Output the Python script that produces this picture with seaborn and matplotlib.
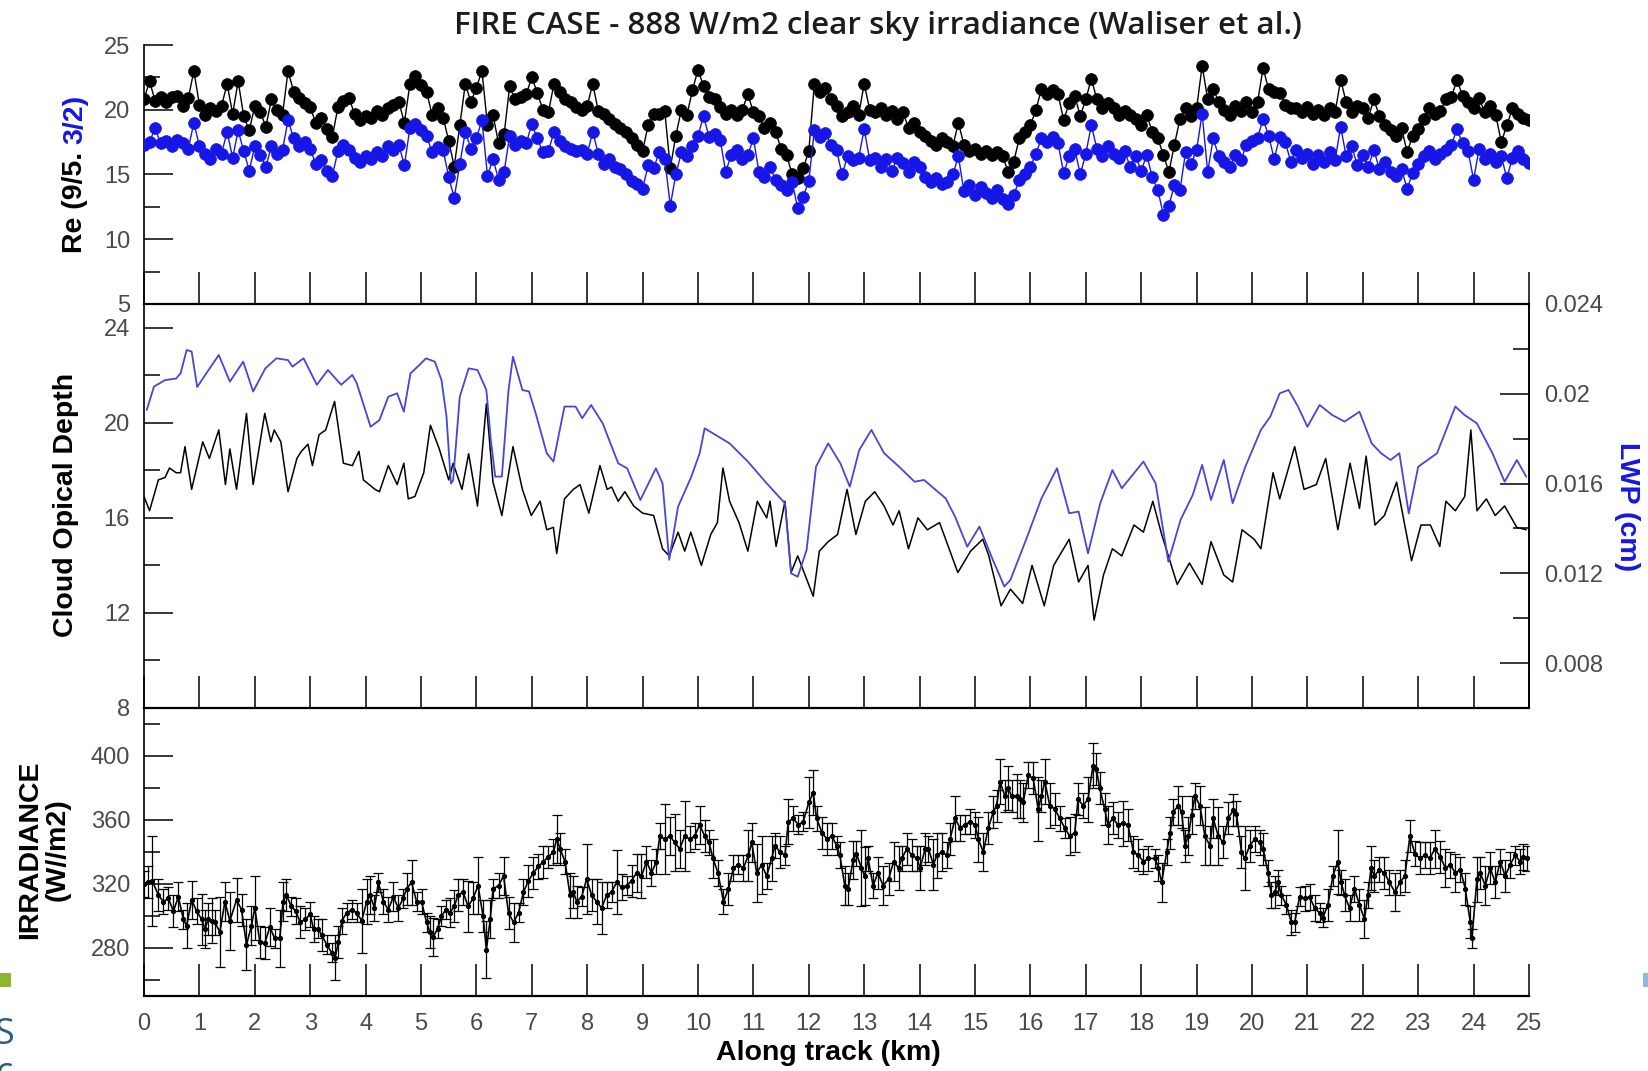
import numpy as np
import matplotlib
matplotlib.use("Agg")
import matplotlib.pyplot as plt
from matplotlib.patches import Rectangle
import seaborn as sns

# ---------------- data ----------------
# along-track distance of the effective-radius retrievals (0.1 km spacing)
re_km = np.round(np.arange(251) * 0.1, 1)

# effective radius from the 9/5 band ratio (black)
re_95 = [
    20.8, 22.2, 20.7, 21.0, 20.6, 21.0, 21.1, 20.3, 20.9, 23.0, 20.4,
    19.6, 20.1, 19.9, 20.3, 22.0, 19.7, 22.2, 19.5, 18.4, 20.3,
    19.8, 18.7, 20.8, 20.0, 19.6, 23.0, 21.4, 20.9, 20.5, 20.2,
    19.0, 19.4, 18.5, 17.9, 20.2, 20.7, 20.9, 19.7, 19.2, 19.5,
    19.4, 19.9, 19.6, 20.1, 20.4, 20.6, 19.0, 22.0, 22.6, 21.9,
    21.4, 19.6, 20.1, 19.4, 17.6, 15.6, 18.8, 22.0, 20.6, 21.7,
    23.0, 18.8, 19.6, 17.4, 18.1, 21.8, 20.8, 21.0, 21.2, 22.5,
    21.3, 20.0, 19.8, 22.0, 21.4, 20.8, 20.6, 20.2, 20.0, 20.3,
    22.0, 19.9, 19.7, 19.3, 18.9, 18.6, 18.3, 17.8, 17.3, 16.8,
    18.8, 19.7, 19.7, 19.9, 15.5, 18.0, 20.0, 19.6, 21.5, 23.1,
    21.8, 21.0, 20.8, 20.2, 19.7, 20.0, 19.6, 20.0, 21.2, 19.8,
    19.5, 18.6, 19.0, 18.3, 17.0, 16.5, 15.0, 14.7, 15.5, 16.8,
    22.0, 21.4, 21.7, 20.8, 20.3, 19.5, 19.8, 20.3, 19.6, 22.0,
    20.0, 19.8, 20.1, 19.6, 19.9, 19.3, 19.8, 18.6, 19.0, 18.3,
    18.0, 17.6, 17.3, 17.8, 17.5, 17.2, 19.0, 17.3, 16.8, 17.0,
    16.6, 16.8, 16.5, 16.7, 16.4, 15.2, 16.0, 17.8, 18.3, 18.8,
    20.0, 21.6, 21.2, 21.5, 21.2, 19.2, 20.5, 21.1, 19.5, 20.8,
    22.4, 20.8, 20.1, 20.5, 20.1, 19.6, 19.9, 19.6, 19.3, 18.8,
    19.6, 18.3, 17.8, 16.5, 15.2, 17.3, 19.3, 20.1, 19.5, 20.1,
    23.4, 20.8, 21.6, 20.6, 20.0, 19.6, 20.3, 19.9, 20.6, 19.8,
    20.6, 23.2, 21.6, 21.4, 21.3, 20.4, 20.1, 20.1, 19.8, 20.2,
    19.7, 20.0, 19.6, 20.1, 19.8, 22.3, 20.6, 19.8, 20.3, 20.1,
    19.4, 20.8, 19.5, 18.8, 18.4, 18.0, 18.6, 16.7, 18.0, 18.5,
    19.3, 20.1, 19.7, 19.9, 20.8, 21.0, 22.3, 21.1, 20.6, 20.1,
    20.9, 19.8, 20.3, 19.6, 17.5, 18.8, 20.1, 19.7, 19.4, 19.2,
]

# effective radius from the 3/2 band ratio (blue)
re_32 = [
    17.3, 17.5, 18.6, 17.4, 17.6, 17.2, 17.7, 17.4, 17.0, 19.0, 17.2,
    16.6, 16.2, 17.0, 16.6, 18.3, 16.3, 18.4, 16.8, 15.3, 17.2,
    16.5, 15.6, 17.2, 16.6, 16.9, 19.2, 17.8, 17.2, 17.5, 17.0,
    15.8, 16.1, 15.3, 14.9, 16.8, 17.3, 16.9, 16.3, 16.0, 16.4,
    16.2, 16.7, 16.4, 17.2, 16.9, 17.3, 15.7, 18.6, 18.9, 18.4,
    18.0, 16.7, 17.1, 16.9, 14.8, 13.2, 15.8, 18.3, 17.0, 17.8,
    19.2, 14.9, 16.2, 14.6, 15.2, 18.0, 17.3, 17.6, 17.4, 18.9,
    17.8, 16.7, 16.8, 18.3, 17.6, 17.2, 17.0, 16.8, 16.9, 16.6,
    18.3, 16.6, 15.8, 16.2, 15.6, 15.4, 15.0, 14.5, 14.3, 13.9,
    15.7, 15.5, 16.7, 16.2, 12.6, 15.0, 16.7, 16.4, 17.2, 18.0,
    19.5, 17.9, 18.1, 17.7, 15.2, 16.5, 16.9, 16.2, 16.5, 17.8,
    15.2, 14.8, 15.6, 14.6, 14.2, 13.8, 14.4, 12.4, 13.3, 14.5,
    18.4, 17.9, 18.2, 17.3, 16.9, 15.0, 16.4, 16.1, 16.3, 18.5,
    16.1, 16.3, 15.6, 16.2, 15.3, 16.3, 15.9, 15.2, 16.0, 15.6,
    14.8, 14.4, 14.7, 14.3, 14.4, 15.0, 16.4, 13.7, 14.2, 13.4,
    14.0, 13.6, 13.2, 13.8, 13.1, 12.7, 13.4, 14.6, 15.0, 15.6,
    16.6, 17.8, 17.5, 17.9, 17.4, 15.1, 16.4, 17.0, 15.0, 16.6,
    18.8, 17.0, 16.4, 17.2, 16.6, 16.3, 16.8, 15.6, 16.4, 15.3,
    16.5, 14.8, 13.8, 11.9, 12.6, 14.2, 13.8, 16.7, 15.8, 16.9,
    19.7, 15.2, 17.8, 16.4, 16.0, 15.6, 16.5, 16.1, 17.3, 17.6,
    17.8, 19.3, 18.0, 16.2, 17.9, 17.5, 16.0, 16.9, 16.3, 16.6,
    15.8, 16.5, 16.0, 16.7, 16.1, 18.7, 16.4, 17.2, 15.7, 16.5,
    15.6, 16.9, 15.4, 16.0, 15.2, 14.9, 15.4, 13.9, 15.1, 15.8,
    16.4, 16.8, 16.2, 16.6, 16.9, 17.3, 18.5, 17.4, 16.8, 14.6,
    17.0, 16.2, 16.6, 16.0, 16.4, 14.7, 16.3, 16.8, 16.2, 15.9,
]

# cloud optical depth
cod_km = [
    0.00, 0.10, 0.26, 0.38, 0.46, 0.58, 0.66, 0.74, 0.86, 1.06,
    1.18, 1.35, 1.47, 1.55, 1.67, 1.85, 1.97, 2.18, 2.29, 2.35,
    2.47, 2.60, 2.76, 2.84, 2.96, 3.04, 3.16, 3.28, 3.44, 3.60,
    3.76, 3.88, 3.96, 4.17, 4.25, 4.41, 4.57, 4.69, 4.77, 4.89,
    5.05, 5.17, 5.33, 5.50, 5.58, 5.74, 5.86, 6.02, 6.18, 6.30,
    6.46, 6.66, 6.83, 6.99, 7.15, 7.27, 7.39, 7.45, 7.59, 7.75,
    7.87, 8.03, 8.23, 8.36, 8.44, 8.56, 8.68, 8.84, 9.00, 9.20,
    9.36, 9.48, 9.64, 9.76, 9.87, 10.06, 10.23, 10.35, 10.45, 10.57,
    10.74, 10.90, 11.07, 11.24, 11.30, 11.41, 11.57, 11.68, 11.80, 12.08,
    12.19, 12.35, 12.52, 12.69, 12.85, 13.02, 13.19, 13.36, 13.52, 13.63,
    13.80, 13.97, 14.14, 14.36, 14.69, 14.92, 15.14, 15.25, 15.47, 15.64,
    15.86, 16.03, 16.25, 16.42, 16.70, 16.87, 17.04, 17.15, 17.32, 17.48,
    17.65, 17.87, 18.04, 18.21, 18.37, 18.65, 18.87, 19.10, 19.26, 19.49,
    19.65, 19.82, 20.04, 20.16, 20.38, 20.50, 20.77, 20.94, 21.16, 21.33,
    21.55, 21.77, 21.94, 22.06, 22.22, 22.39, 22.61, 22.88, 23.05, 23.22,
    23.39, 23.50, 23.67, 23.84, 23.95, 24.06, 24.23, 24.39, 24.56, 24.78,
    24.95,
]
cod = [
    16.9, 16.3, 17.6, 17.7, 18.1, 17.9, 17.9, 19.0, 17.2, 19.2,
    18.5, 19.7, 17.4, 18.9, 17.2, 20.4, 17.4, 20.4, 19.2, 19.7,
    19.2, 17.1, 18.5, 18.8, 19.1, 18.2, 19.5, 19.7, 20.9, 18.3,
    18.2, 18.8, 17.6, 17.2, 17.1, 18.2, 17.4, 18.3, 16.8, 16.9,
    17.9, 19.9, 18.9, 17.6, 18.3, 17.2, 18.7, 16.5, 20.8, 17.5,
    16.1, 19.0, 17.2, 16.1, 16.7, 15.5, 15.6, 14.5, 16.8, 17.2,
    17.4, 16.2, 18.2, 17.2, 17.3, 16.7, 17.1, 16.5, 16.2, 16.1,
    14.7, 14.4, 15.4, 14.6, 15.4, 14.0, 15.3, 15.8, 18.1, 16.7,
    15.8, 14.6, 16.7, 16.0, 16.7, 14.8, 16.7, 13.7, 14.4, 12.7,
    14.6, 15.0, 15.3, 17.2, 15.3, 16.7, 17.1, 16.5, 15.7, 16.3,
    14.7, 16.0, 15.5, 15.8, 13.7, 14.6, 15.1, 14.4, 12.3, 13.0,
    12.4, 14.0, 12.3, 14.0, 15.1, 13.3, 14.0, 11.7, 13.6, 14.7,
    14.4, 15.7, 15.4, 16.7, 15.3, 13.2, 14.1, 13.2, 15.0, 13.6,
    13.3, 15.5, 15.1, 14.7, 17.9, 16.8, 19.0, 17.2, 17.4, 18.5,
    15.5, 18.3, 16.4, 18.6, 15.7, 16.1, 17.5, 14.2, 15.7, 15.7,
    14.8, 16.7, 16.3, 16.9, 19.7, 16.3, 16.8, 16.1, 16.5, 15.6,
    15.5,
]

# liquid water path (cm)
lwp_km = [
    0.05, 0.18, 0.38, 0.58, 0.66, 0.77, 0.86, 0.96, 1.10, 1.35,
    1.55, 1.79, 1.97, 2.19, 2.39, 2.60, 2.68, 2.88, 3.12, 3.32,
    3.56, 3.76, 3.84, 4.09, 4.25, 4.41, 4.57, 4.69, 4.81, 4.97,
    5.09, 5.25, 5.37, 5.46, 5.54, 5.58, 5.70, 5.86, 6.02, 6.18,
    6.26, 6.34, 6.46, 6.58, 6.66, 6.83, 6.95, 7.07, 7.27, 7.39,
    7.59, 7.79, 7.91, 8.07, 8.28, 8.56, 8.72, 8.96, 9.24, 9.36,
    9.48, 9.64, 9.88, 10.03, 10.12, 10.57, 10.90, 11.24, 11.57, 11.68,
    11.80, 11.96, 12.13, 12.35, 12.57, 12.74, 12.91, 13.13, 13.36, 13.63,
    13.91, 14.08, 14.47, 14.64, 14.86, 15.08, 15.31, 15.53, 15.64, 15.92,
    16.20, 16.48, 16.70, 16.87, 17.04, 17.26, 17.48, 17.65, 18.04, 18.26,
    18.49, 18.71, 18.93, 19.10, 19.26, 19.49, 19.65, 19.88, 20.16, 20.33,
    20.50, 20.66, 20.83, 21.00, 21.22, 21.45, 21.67, 21.94, 22.16, 22.33,
    22.50, 22.66, 22.83, 23.00, 23.34, 23.67, 23.84, 24.06, 24.34, 24.56,
    24.78, 24.95,
]
lwp = [
    0.01928, 0.02032, 0.02061, 0.02068, 0.02091, 0.02195, 0.02188, 0.02030, 0.02082, 0.02173,
    0.02054, 0.02143, 0.02010, 0.02113, 0.02158, 0.02150, 0.02121, 0.02158, 0.02040, 0.02106,
    0.02040, 0.02084, 0.02047, 0.01853, 0.01883, 0.01987, 0.02002, 0.01920, 0.02091, 0.02128,
    0.02158, 0.02143, 0.02061, 0.01899, 0.01600, 0.01615, 0.01987, 0.02113, 0.02106, 0.02017,
    0.01794, 0.01631, 0.01631, 0.02017, 0.02165, 0.02017, 0.02010, 0.01913, 0.01735, 0.01698,
    0.01943, 0.01943, 0.01891, 0.01950, 0.01868, 0.01690, 0.01668, 0.01527, 0.01668, 0.01601,
    0.01260, 0.01497, 0.01631, 0.01735, 0.01846, 0.01779, 0.01698, 0.01601, 0.01512, 0.01200,
    0.01185, 0.01304, 0.01675, 0.01779, 0.01690, 0.01586, 0.01749, 0.01839, 0.01735, 0.01675,
    0.01608, 0.01616, 0.01534, 0.01453, 0.01319, 0.01408, 0.01267, 0.01141, 0.01171, 0.01349,
    0.01534, 0.01668, 0.01468, 0.01475, 0.01289, 0.01512, 0.01660, 0.01579, 0.01698, 0.01601,
    0.01252, 0.01438, 0.01549, 0.01683, 0.01527, 0.01705, 0.01512, 0.01675, 0.01839, 0.01898,
    0.02002, 0.02017, 0.01943, 0.01853, 0.01950, 0.01905, 0.01876, 0.01920, 0.01779, 0.01735,
    0.01705, 0.01735, 0.01467, 0.01675, 0.01735, 0.01943, 0.01905, 0.01868, 0.01735, 0.01608,
    0.01705, 0.01631,
]

# measured irradiance (W/m2) and its error
irr_km = [
    0.00, 0.08, 0.15, 0.26, 0.35, 0.44, 0.53, 0.62, 0.71, 0.77,
    0.86, 0.95, 1.04, 1.10, 1.16, 1.22, 1.28, 1.37, 1.46, 1.55,
    1.67, 1.76, 1.85, 1.94, 2.00, 2.09, 2.18, 2.27, 2.36, 2.45,
    2.51, 2.57, 2.66, 2.74, 2.82, 2.91, 3.00, 3.06, 3.14, 3.21,
    3.30, 3.39, 3.45, 3.51, 3.57, 3.66, 3.75, 3.84, 3.93, 4.02,
    4.08, 4.16, 4.23, 4.32, 4.41, 4.50, 4.59, 4.68, 4.74, 4.83,
    4.92, 5.01, 5.10, 5.16, 5.22, 5.30, 5.37, 5.45, 5.52, 5.60,
    5.67, 5.76, 5.85, 5.94, 6.03, 6.12, 6.18, 6.25, 6.30, 6.40,
    6.49, 6.58, 6.67, 6.76, 6.85, 6.94, 7.03, 7.12, 7.21, 7.30,
    7.39, 7.45, 7.51, 7.60, 7.69, 7.75, 7.81, 7.90, 7.99, 8.08,
    8.17, 8.26, 8.35, 8.44, 8.53, 8.62, 8.71, 8.80, 8.89, 8.98,
    9.07, 9.16, 9.25, 9.31, 9.40, 9.49, 9.58, 9.67, 9.76, 9.85,
    9.94, 10.03, 10.12, 10.20, 10.27, 10.36, 10.46, 10.55, 10.64, 10.73,
    10.82, 10.91, 10.97, 11.06, 11.15, 11.24, 11.33, 11.39, 11.48, 11.57,
    11.63, 11.72, 11.81, 11.90, 12.00, 12.08, 12.14, 12.24, 12.33, 12.42,
    12.50, 12.56, 12.65, 12.71, 12.80, 12.86, 12.95, 13.01, 13.07, 13.16,
    13.25, 13.34, 13.44, 13.53, 13.62, 13.68, 13.77, 13.86, 13.95, 14.01,
    14.10, 14.16, 14.25, 14.31, 14.40, 14.49, 14.55, 14.64, 14.73, 14.82,
    14.91, 15.00, 15.06, 15.15, 15.24, 15.33, 15.39, 15.45, 15.54, 15.60,
    15.66, 15.75, 15.81, 15.87, 15.96, 16.05, 16.14, 16.20, 16.26, 16.35,
    16.44, 16.53, 16.62, 16.71, 16.80, 16.86, 16.95, 17.04, 17.13, 17.19,
    17.25, 17.34, 17.40, 17.49, 17.58, 17.67, 17.76, 17.86, 17.95, 18.04,
    18.13, 18.25, 18.31, 18.37, 18.46, 18.52, 18.58, 18.67, 18.73, 18.79,
    18.85, 18.91, 18.97, 19.06, 19.15, 19.24, 19.30, 19.39, 19.48, 19.57,
    19.66, 19.72, 19.81, 19.87, 19.96, 20.05, 20.14, 20.20, 20.29, 20.35,
    20.41, 20.47, 20.53, 20.62, 20.71, 20.77, 20.86, 20.95, 21.04, 21.13,
    21.22, 21.28, 21.37, 21.46, 21.55, 21.61, 21.67, 21.76, 21.85, 21.94,
    22.03, 22.09, 22.15, 22.21, 22.30, 22.39, 22.48, 22.58, 22.67, 22.76,
    22.85, 22.94, 23.03, 23.12, 23.21, 23.30, 23.40, 23.49, 23.58, 23.67,
    23.76, 23.85, 23.94, 23.97, 24.06, 24.12, 24.21, 24.30, 24.39, 24.48,
    24.57, 24.66, 24.75, 24.84, 24.90, 24.96,
]
irr = [
    320, 321, 322, 313, 309, 311, 303, 312, 298, 294,
    310, 303, 298, 292, 298, 297, 296, 290, 309, 297,
    310, 304, 282, 294, 305, 284, 283, 293, 286, 286,
    309, 313, 306, 303, 296, 298, 301, 292, 292, 288,
    282, 277, 274, 284, 297, 302, 304, 302, 297, 309,
    313, 305, 321, 309, 304, 312, 305, 311, 317, 321,
    309, 309, 296, 290, 287, 292, 300, 304, 302, 306,
    313, 315, 306, 311, 319, 300, 279, 298, 317, 319,
    325, 302, 296, 302, 315, 322, 327, 331, 334, 337,
    340, 348, 342, 334, 313, 315, 309, 312, 323, 313,
    309, 305, 313, 315, 321, 318, 319, 322, 327, 325,
    334, 327, 334, 350, 348, 350, 346, 342, 350, 348,
    350, 357, 350, 346, 336, 327, 309, 317, 330, 332,
    330, 338, 346, 327, 332, 325, 336, 344, 340, 338,
    359, 361, 357, 359, 371, 377, 361, 352, 348, 350,
    344, 338, 319, 317, 335, 339, 330, 325, 336, 319,
    327, 319, 323, 334, 330, 336, 342, 338, 336, 330,
    342, 342, 332, 338, 340, 338, 348, 361, 355, 357,
    359, 357, 348, 340, 355, 365, 369, 384, 375, 380,
    375, 375, 373, 371, 388, 386, 367, 375, 384, 369,
    367, 361, 355, 350, 352, 373, 369, 373, 394, 392,
    380, 367, 357, 361, 357, 358, 357, 340, 338, 334,
    336, 336, 330, 321, 340, 352, 365, 369, 365, 344,
    350, 363, 375, 369, 350, 344, 361, 350, 346, 361,
    366, 364, 340, 336, 344, 348, 346, 342, 327, 313,
    315, 321, 313, 307, 296, 296, 312, 311, 312, 305,
    302, 299, 307, 325, 334, 321, 313, 305, 317, 307,
    298, 313, 330, 325, 329, 327, 321, 315, 321, 325,
    350, 339, 336, 338, 336, 342, 337, 330, 332, 327,
    329, 317, 296, 286, 323, 327, 319, 330, 321, 334,
    325, 332, 338, 334, 337, 336,
]
irr_err = [
    8, 10, 28, 10, 8, 7, 10, 9, 6, 14,
    12, 8, 16, 12, 10, 14, 8, 22, 12, 18,
    14, 10, 16, 12, 20, 10, 10, 12, 6, 18,
    12, 10, 6, 8, 10, 7, 8, 8, 6, 10,
    6, 6, 14, 10, 8, 6, 6, 6, 20, 14,
    12, 8, 6, 8, 8, 9, 8, 6, 10, 14,
    6, 8, 6, 10, 12, 6, 6, 6, 9, 10,
    10, 8, 16, 10, 18, 10, 18, 12, 6, 8,
    12, 10, 12, 6, 8, 10, 10, 8, 10, 7,
    8, 15, 10, 8, 14, 10, 10, 6, 22, 10,
    14, 16, 8, 6, 20, 8, 6, 10, 12, 14,
    10, 8, 8, 8, 22, 12, 18, 12, 22, 8,
    8, 12, 10, 8, 12, 8, 8, 10, 8, 6,
    8, 16, 12, 18, 18, 8, 14, 8, 10, 6,
    14, 8, 6, 6, 16, 14, 8, 10, 10, 8,
    6, 8, 12, 10, 12, 8, 24, 18, 8, 8,
    10, 12, 10, 12, 14, 8, 10, 10, 8, 14,
    10, 8, 16, 14, 12, 8, 10, 14, 8, 6,
    8, 8, 14, 12, 10, 10, 10, 14, 10, 14,
    10, 14, 12, 12, 8, 10, 20, 10, 14, 14,
    10, 8, 6, 12, 12, 10, 8, 14, 14, 10,
    10, 10, 12, 10, 8, 14, 10, 10, 10, 8,
    8, 6, 8, 12, 8, 10, 8, 12, 10, 10,
    12, 12, 8, 12, 18, 12, 12, 18, 10, 10,
    10, 8, 10, 20, 10, 8, 8, 10, 8, 8,
    10, 8, 6, 6, 8, 6, 6, 8, 8, 8,
    6, 6, 10, 6, 20, 8, 10, 8, 8, 10,
    12, 8, 14, 10, 8, 10, 8, 12, 8, 10,
    10, 8, 10, 8, 10, 12, 10, 12, 8, 12,
    8, 10, 10, 6, 14, 10, 12, 10, 10, 8,
    10, 8, 6, 8, 8, 8,
]

x_ticks = list(range(26))
x_tick_labels = [str(v) for v in x_ticks]
re_ticks, re_minor = [5, 10, 15, 20, 25], [7.5, 12.5, 17.5, 22.5]
cod_ticks, cod_minor = [8, 12, 16, 20, 24], [10, 14, 18, 22]
lwp_ticks, lwp_minor = [0.008, 0.012, 0.016, 0.020, 0.024], [0.010, 0.014, 0.018, 0.022]
lwp_tick_labels = ["0.008", "0.012", "0.016", "0.02", "0.024"]
irr_ticks, irr_minor = [280, 320, 360, 400], [260, 300, 340, 380, 420]

# ---------------- style ----------------
sns.set_theme(style="white")
plt.rcParams["font.family"] = ["Liberation Sans", "DejaVu Sans"]

BLUE = "#1616e6"
LWP_BLUE = "#4646d8"
TICK_GREY = "#4a4a4a"
TICK_SIZE = 17

W, H = 1648, 1071
fig = plt.figure(figsize=(W / 100, H / 100), dpi=100)
fig.patch.set_facecolor("white")


def box(left, top, right, bottom):
    return [left / W, 1 - bottom / H, (right - left) / W, (bottom - top) / H]


X0, X1 = 144, 1529
ax_re = fig.add_axes(box(X0, 45, X1, 304))
ax_cod = fig.add_axes(box(X0, 304, X1, 708))
ax_irr = fig.add_axes(box(X0, 708, X1, 996))
ax_lwp = ax_cod.twinx()

# ---------------- marks ----------------
sns.lineplot(x=re_km, y=re_95, ax=ax_re, color="black", linewidth=1.0,
             marker="o", markersize=8.5, markeredgecolor="black",
             markeredgewidth=0.5, zorder=3)
sns.lineplot(x=re_km, y=re_32, ax=ax_re, color=BLUE, linewidth=1.0,
             marker="o", markersize=8.5, markeredgecolor=BLUE,
             markeredgewidth=0.5, zorder=4)

sns.lineplot(x=cod_km, y=cod, ax=ax_cod, color="black", linewidth=1.1)
sns.lineplot(x=lwp_km, y=lwp, ax=ax_lwp, color=LWP_BLUE, linewidth=1.3)

ax_irr.errorbar(irr_km, irr, yerr=irr_err, fmt="none", ecolor="black",
                elinewidth=0.9, capsize=3.5, capthick=0.9, zorder=2)
sns.lineplot(x=irr_km, y=irr, ax=ax_irr, color="black", linewidth=1.2,
             marker="o", markersize=3, markeredgecolor="black", zorder=3)

# ---------------- axes ----------------
for ax in (ax_re, ax_cod, ax_irr):
    ax.set_xlim(0, 25)
    ax.set_xticks(x_ticks)
    ax.set_xticklabels(x_tick_labels)
    ax.tick_params(axis="x", which="major", direction="in", length=23,
                   width=1.1, color="black", bottom=True, top=False,
                   labelbottom=False)
    ax.tick_params(axis="y", which="major", direction="in", length=21,
                   width=1.1, color="black", left=True, right=False,
                   labelsize=TICK_SIZE, labelcolor=TICK_GREY, pad=10)
    ax.tick_params(axis="y", which="minor", direction="in", length=11.5,
                   width=1.1, color="black", left=True, right=False)
    ax.set_xlabel("")
    ax.set_ylabel("")
    ax.set_facecolor("none")
    for sp in ax.spines.values():
        sp.set_color("black")
        sp.set_linewidth(1.2)
    ax.spines["bottom"].set_linewidth(1.6)

ax_re.spines["top"].set_visible(False)
ax_re.spines["right"].set_visible(False)
ax_irr.spines["right"].set_visible(False)

ax_re.set_ylim(5, 25)
ax_re.set_yticks(re_ticks)
ax_re.set_yticks(re_minor, minor=True)
ax_re.set_yticklabels([str(v) for v in re_ticks])

ax_cod.set_ylim(8, 25)
ax_cod.set_yticks(cod_ticks)
ax_cod.set_yticks(cod_minor, minor=True)
ax_cod.set_yticklabels([str(v) for v in cod_ticks])

ax_lwp.set_ylim(0.006, 0.024)
ax_lwp.set_yticks(lwp_ticks)
ax_lwp.set_yticks(lwp_minor, minor=True)
ax_lwp.set_yticklabels(lwp_tick_labels)
ax_lwp.tick_params(axis="y", which="major", direction="in", length=21,
                   width=1.1, color="black", right=True, left=False,
                   labelright=True, labelleft=False, labelsize=TICK_SIZE,
                   labelcolor=TICK_GREY, pad=11)
ax_lwp.tick_params(axis="y", which="minor", direction="in", length=11.5,
                   width=1.1, color="black", right=True, left=False)
ax_lwp.set_ylabel("")
ax_lwp.set_xlabel("")
for name, sp in ax_lwp.spines.items():
    sp.set_visible(name == "right")
    sp.set_color("black")
    sp.set_linewidth(1.2)

ax_irr.set_ylim(250, 430)
ax_irr.set_yticks(irr_ticks)
ax_irr.set_yticks(irr_minor, minor=True)
ax_irr.set_yticklabels([str(v) for v in irr_ticks])
ax_irr.tick_params(axis="x", labelbottom=True, labelsize=TICK_SIZE,
                   labelcolor=TICK_GREY, pad=12)

# ---------------- text ----------------
fig.text(878 / W, 1 - 26 / H,
         "FIRE CASE - 888 W/m2 clear sky irradiance (Waliser et al.)",
         ha="center", va="center", fontsize=22.5, family="Open Sans",
         fontweight="semibold", color="#1c1c1c")

label_kw = dict(fontsize=20.5, fontweight="bold")

fig.text(66 / W, 1 - 505 / H, "Cloud Opical Depth", rotation=90,
         ha="center", va="center", color="black", **label_kw)
fig.text(1627 / W, 1 - 507 / H, "LWP (cm)", rotation=270,
         ha="center", va="center", color=BLUE, **label_kw)
fig.text(44 / W, 1 - 850 / H, "IRRADIANCE\n(W//m2)", rotation=90,
         ha="center", va="center", multialignment="center",
         linespacing=1.05, color="black", **label_kw)
fig.text(828 / W, 1 - 1053 / H, "Along track (km)", ha="center",
         va="center", color="black", fontsize=20.5, fontweight="bold")

# two-colour effective-radius label, laid end to end along one baseline
anchor_kw = dict(rotation=90, rotation_mode="anchor", ha="left",
                 va="baseline", **label_kw)
t_black = fig.text(0, 0, "Re (9/5.", color="black", **anchor_kw)
t_blue = fig.text(0, 0, "3/2)", color=BLUE, **anchor_kw)
renderer = fig.canvas.get_renderer()
len_black = t_black.get_window_extent(renderer).height
len_blue = t_blue.get_window_extent(renderer).height
gap = 0.3 * 20.5 * 100 / 72
start = 174 + (len_black + gap + len_blue) / 2
base_x = 82
t_black.set_position((base_x / W, 1 - start / H))
t_blue.set_position((base_x / W, 1 - (start - len_black - gap) / H))

# slide furniture at the page edges
fig.add_artist(Rectangle((0, 1 - 987 / H), 11 / W, 14 / H,
                         transform=fig.transFigure, color="#8cb82e", lw=0))
fig.add_artist(Rectangle((1643 / W, 1 - 987 / H), 5 / W, 14 / H,
                         transform=fig.transFigure, color="#93b6df", lw=0))
fig.text(-6 / W, 1 - 1035 / H, "S", ha="left", va="center", fontsize=26,
         family="Open Sans", color="#2f5f7d")
fig.text(-4 / W, 1 - 1074 / H, "c", ha="left", va="center", fontsize=26,
         family="Open Sans", color="#2f5f7d")

fig.savefig("out.png", dpi=100)
